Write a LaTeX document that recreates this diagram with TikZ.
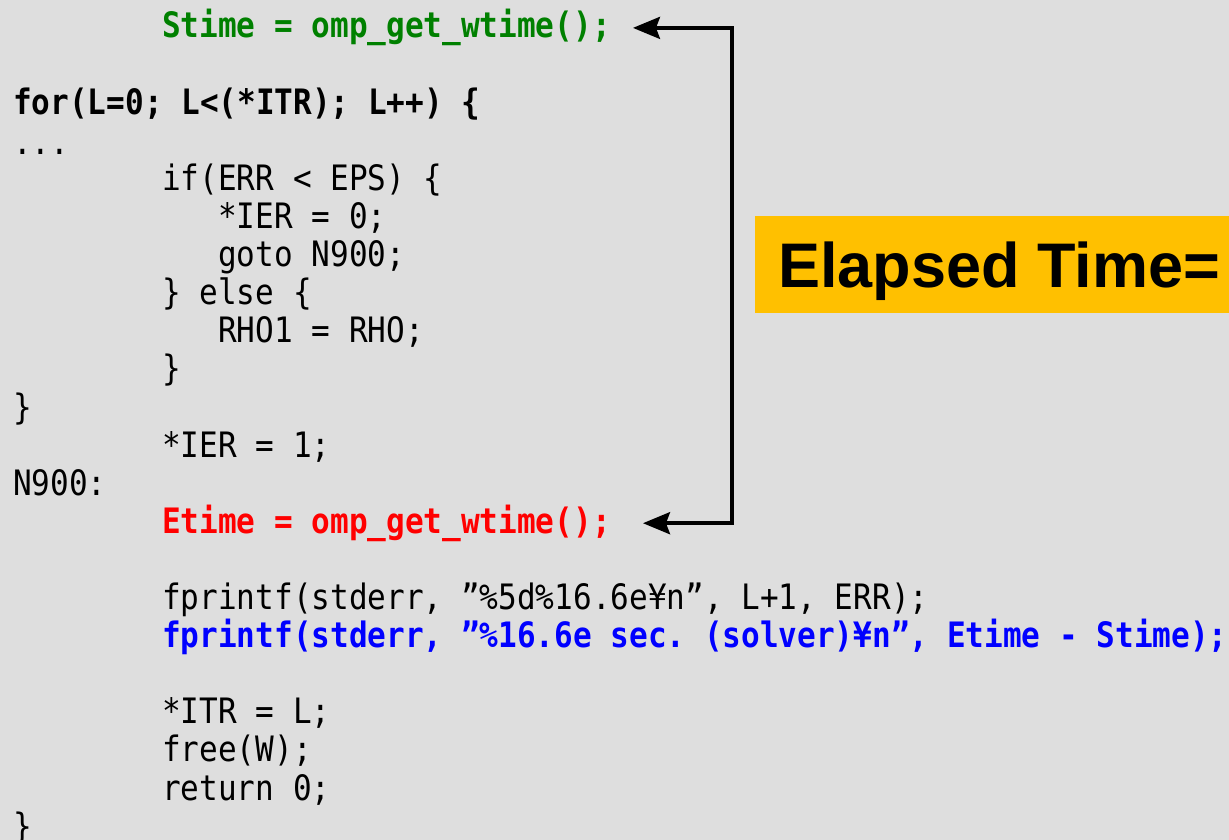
\documentclass[tikz,border=0pt]{standalone}
\usepackage{fontspec}
\setmainfont{Liberation Sans}
\newfontfamily\codefont[FakeStretch=0.887]{DejaVu Sans Mono}
\usetikzlibrary{arrows.meta}
\definecolor{slidegray}{HTML}{DEDEDE}
\definecolor{codegreen}{HTML}{008000}
\definecolor{codeblue}{HTML}{0000FF}
\definecolor{codered}{HTML}{FF0000}
\definecolor{timeorange}{HTML}{FFC000}
\tikzset{code/.style={anchor=base west, inner sep=0pt,
                      font=\codefont\fontsize{35}{38}\selectfont\frenchspacing},
         boldcode/.style={code, font=\codefont\fontsize{35}{38}\selectfont\bfseries\frenchspacing},
         timebox/.style={fill=timeorange, anchor=north west, inner xsep=23pt, inner ysep=0pt,
                         minimum height=97pt, text height=45pt, text depth=0pt,
                         font=\fontsize{63}{70}\selectfont\bfseries},
         timing/.style={line width=3.5pt, {Stealth[length=27pt,width=22pt,inset=4pt]}-{Stealth[length=27pt,width=22pt,inset=4pt]},
                        shorten <=22pt, shorten >=32pt},
         }

\begin{document}
\begin{tikzpicture}[x=1pt, y=-1pt]
\useasboundingbox (0,0) rectangle (1229,840);
\fill[slidegray] (0,0) rectangle (1229,840);

% timer calls and loop
\node[boldcode, text=codegreen] (stime) at (162,38) {Stime = omp\_get\_wtime();};
\node[boldcode] (forloop) at (13,114.2) {for(L=0; L<(*ITR); L++) \{};
\node[code] (dots) at (13,155) {...};
\node[code] (iftest) at (162,190.4) {if(ERR < EPS) \{};
\node[code] (ierzero) at (218,228.5) {*IER = 0;};
\node[code] (gotoline) at (218,266.6) {goto N900;};
\node[code] (elseline) at (162,304.7) {\} else \{};
\node[code] (rholine) at (218,342.8) {RHO1 = RHO;};
\node[code] (closeif) at (162,380.9) {\}};
\node[code] (closefor) at (13,419) {\}};
\node[code] (ierone) at (162,457.1) {*IER = 1;};
\node[code] (label) at (13,495.2) {N900:};
\node[boldcode, text=codered] (etime) at (162,533.3) {Etime = omp\_get\_wtime();};

% output and return
\node[code] (printerr) at (162,609.5) {fprintf(stderr, ”\%5d\%16.6e¥n”, L+1, ERR);};
\node[boldcode, text=codeblue] (printtime) at (162,647.6) {fprintf(stderr, ”\%16.6e sec. (solver)¥n”, Etime - Stime);};
\node[code] (itrline) at (162,723.8) {*ITR = L;};
\node[code] (freew) at (162,761.9) {free(W);};
\node[code] (retline) at (162,800) {return 0;};
\node[code] (closefn) at (13,838.1) {\}};

\node[timebox] (elapsed) at (755,216) {Elapsed Time=};

\coordinate (rail) at (732,270);
\draw[timing] (stime.east) -| (rail) |- (etime.east);
\end{tikzpicture}
\end{document}
